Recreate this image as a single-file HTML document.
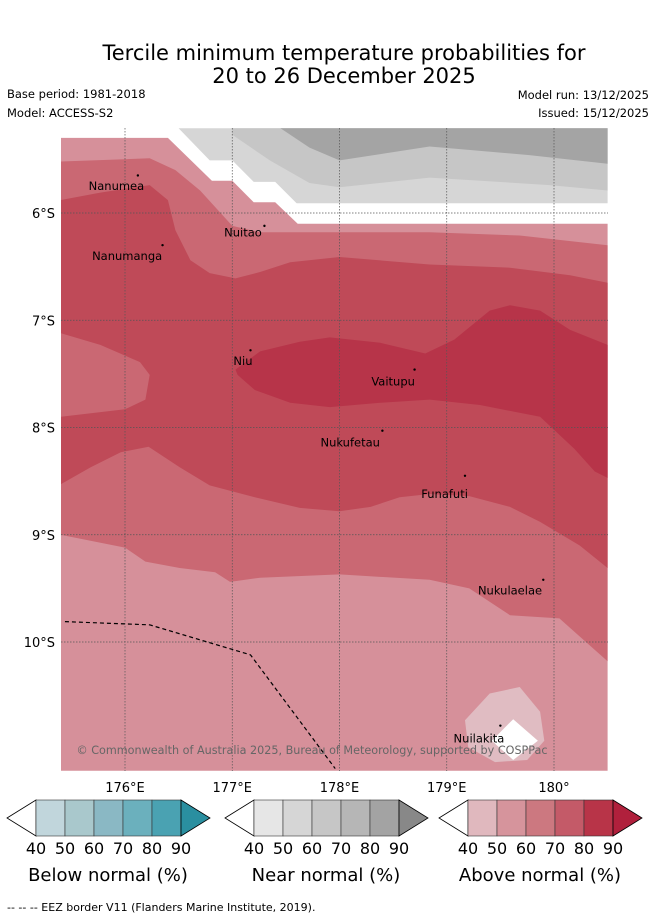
<!DOCTYPE html>
<html><head><meta charset="utf-8"><style>
body{margin:0;background:#fff;font-family:"Liberation Sans","DejaVu Sans",sans-serif;}
#wrap{position:relative;width:655px;height:919px;overflow:hidden}
svg text{font-family:"DejaVu Sans","Liberation Sans",sans-serif}
</style></head><body>
<div id="wrap">
<svg id="svg" width="655" height="919" viewBox="0 0 655 919">
<text x="344" y="60" font-size="21" text-anchor="middle">Tercile minimum temperature probabilities for</text>
<text x="344" y="83" font-size="21" text-anchor="middle">20 to 26 December 2025</text>
<text x="7" y="98" font-size="11.5">Base period: 1981-2018</text>
<text x="7" y="117" font-size="11.5">Model: ACCESS-S2</text>
<text x="649" y="99" font-size="11.5" text-anchor="end">Model run: 13/12/2025</text>
<text x="649" y="117" font-size="11.5" text-anchor="end">Issued: 15/12/2025</text>
<defs><clipPath id="mapclip"><rect x="61" y="128" width="547" height="643"/></clipPath></defs>
<g id="map" clip-path="url(#mapclip)"></g>
<g id="over"></g>
<text x="312" y="754" font-size="11.2" fill="#666" text-anchor="middle">© Commonwealth of Australia 2025, Bureau of Meteorology, supported by COSPPac</text>
<g id="bars"></g>
<text x="7" y="911" font-size="11">--  --  -- EEZ border V11 (Flanders Marine Institute, 2019).</text>
</svg>
</div>
<script>
const NS="http://www.w3.org/2000/svg";
// axes
const lonTicks=[176,177,178,179,180];
const lonLabels=["176°E","177°E","178°E","179°E","180°"];
const latTicks=[6,7,8,9,10];
const latLabels=["6°S","7°S","8°S","9°S","10°S"];
function X(lon){return 125+(lon-176)*107.25;}
function Y(lat){return 213+(lat-6)*107.25;}
// contour regions [lon, lat(S)]
const lightRed=[[175.40,5.30],[176.40,5.30],[176.81,5.70],[177.00,5.70],[177.20,5.90],[177.40,5.90],[177.61,6.10],[180.5,6.10],[180.5,11.2],[175.40,11.2]];
const grayLight=[[176.50,5.21],[180.5,5.21],[180.5,5.91],[177.60,5.91],[177.40,5.71],[177.20,5.71],[177.00,5.51],[176.79,5.51]];
const grayMid=[[177.00,5.21],[180.5,5.21],[180.5,5.79],[179.96,5.74],[178.84,5.67],[178.00,5.76],[177.72,5.72],[177.35,5.51],[177.00,5.27]];
const grayDark=[[177.45,5.21],[180.5,5.21],[180.5,5.54],[179.77,5.46],[178.84,5.38],[178.00,5.51],[177.72,5.39]];
const midRed=[[175.40,5.52],[176.23,5.49],[176.47,5.60],[176.70,5.79],[177.00,6.12],[177.26,6.18],[178.84,6.18],[179.68,6.21],[180.5,6.30],[180.5,10.18],[180.05,9.78],[179.59,9.75],[179.21,9.50],[178.84,9.42],[178.00,9.37],[177.26,9.40],[176.98,9.44],[176.84,9.35],[176.51,9.31],[176.19,9.25],[176.00,9.12],[175.40,9.00]];
const darkRed=[[175.40,5.88],[175.77,5.81],[176.23,5.74],[176.40,5.88],[176.47,6.16],[176.61,6.44],[176.79,6.56],[177.03,6.61],[177.26,6.55],[177.54,6.46],[178.00,6.41],[178.84,6.48],[179.59,6.51],[180.15,6.58],[180.5,6.65],[180.5,9.31],[180.24,9.10],[179.87,8.88],[179.59,8.74],[179.21,8.64],[178.84,8.62],[178.56,8.65],[178.29,8.74],[178.00,8.78],[177.63,8.75],[177.21,8.65],[176.79,8.54],[176.51,8.37],[176.22,8.18],[175.96,8.23],[175.68,8.37],[175.40,8.53]];
const midLobe=[[175.40,7.12],[175.77,7.23],[176.14,7.39],[176.23,7.51],[176.19,7.74],[176.00,7.83],[175.40,7.90]];
const darkest=[[177.03,7.46],[177.26,7.29],[177.63,7.20],[177.91,7.16],[178.38,7.21],[178.80,7.31],[179.07,7.18],[179.40,6.91],[179.59,6.86],[179.87,6.91],[180.15,7.09],[180.5,7.23],[180.5,8.47],[180.38,8.41],[180.19,8.20],[179.87,7.90],[179.31,7.79],[178.84,7.74],[178.38,7.77],[177.91,7.81],[177.54,7.77],[177.21,7.65],[177.05,7.51]];
const palePatch=[[179.17,10.73],[179.40,10.48],[179.68,10.42],[179.87,10.65],[179.91,10.92],[179.75,11.10],[179.45,11.12],[179.20,10.98]];
const whiteDiamond=[[179.62,10.72],[179.85,10.92],[179.62,11.10],[179.42,10.92]];
const eez=[[175.44,9.81],[176.23,9.84],[177.17,10.12],[177.96,11.18]];
const islandNames=["Nanumea","Nanumanga","Nuitao","Niu","Vaitupu","Nukufetau","Funafuti","Nukulaelae","Nuilakita"];
const islandLon=[176.12,176.35,177.30,177.17,178.70,178.40,179.17,179.90,179.50];
const islandLat=[5.65,6.30,6.12,7.28,7.46,8.03,8.45,9.42,10.78];
const labelLon=[175.92,176.02,177.10,177.10,178.50,178.10,178.98,179.59,179.30];
const labelLat=[5.75,6.40,6.18,7.38,7.57,8.14,8.62,9.52,10.90];

const map=document.getElementById('map');
function poly(pts,fill,name){
  const p=document.createElementNS(NS,'polygon');
  p.setAttribute('points',pts.map(d=>X(d[0]).toFixed(1)+','+Y(d[1]).toFixed(1)).join(' '));
  p.setAttribute('fill',fill);
  
  
  map.appendChild(p);
}
poly(lightRed,'#d6909a','contour-above-50');
poly(grayLight,'#d6d6d6','contour-near-50');
poly(grayMid,'#c6c6c6','contour-near-60');
poly(grayDark,'#a4a4a4','contour-near-70');
poly(midRed,'#ca6873','contour-above-60');
poly(darkRed,'#bf4a58','contour-above-70');
poly(midLobe,'#ca6873','contour-above-60-lobe');
poly(darkest,'#b73449','contour-above-80');
poly(palePatch,'#e0bcc2','contour-above-40');
poly(whiteDiamond,'#ffffff','contour-below-40');
// gridlines
lonTicks.forEach((v,i)=>{
  const l=document.createElementNS(NS,'line');
  l.setAttribute('x1',X(v));l.setAttribute('x2',X(v));l.setAttribute('y1',128);l.setAttribute('y2',771);
  l.setAttribute('stroke','#555');l.setAttribute('stroke-width','0.7');l.setAttribute('stroke-dasharray','1.5,1.5');
  
  
  map.appendChild(l);
  const t=document.createElementNS(NS,'text');
  t.setAttribute('x',X(v));t.setAttribute('y',792);t.setAttribute('font-size','13');t.setAttribute('text-anchor','middle');
  t.textContent=lonLabels[i];
  
  
  document.getElementById('over').appendChild(t);
});
latTicks.forEach((v,i)=>{
  const l=document.createElementNS(NS,'line');
  l.setAttribute('x1',61);l.setAttribute('x2',608);l.setAttribute('y1',Y(v));l.setAttribute('y2',Y(v));
  l.setAttribute('stroke','#555');l.setAttribute('stroke-width','0.7');l.setAttribute('stroke-dasharray','1.5,1.5');
  
  
  map.appendChild(l);
  const t=document.createElementNS(NS,'text');
  t.setAttribute('x',55);t.setAttribute('y',Y(v)+5);t.setAttribute('font-size','13');t.setAttribute('text-anchor','end');
  t.textContent=latLabels[i];
  
  
  document.getElementById('over').appendChild(t);
});
// eez
const e=document.createElementNS(NS,'polyline');
e.setAttribute('points',eez.map(d=>X(d[0])+','+Y(d[1])).join(' '));
e.setAttribute('fill','none');e.setAttribute('stroke','#000');e.setAttribute('stroke-width','1.2');e.setAttribute('stroke-dasharray','4,3');


map.appendChild(e);
// islands
islandNames.forEach((n,i)=>{
  const d=document.createElementNS(NS,'circle');
  d.setAttribute('cx',X(islandLon[i]));d.setAttribute('cy',Y(islandLat[i]));d.setAttribute('r',1.2);d.setAttribute('fill','#000');
  
  
  map.appendChild(d);
  const t=document.createElementNS(NS,'text');
  t.setAttribute('x',X(labelLon[i]));t.setAttribute('y',Y(labelLat[i])+4);t.setAttribute('font-size','11.5');t.setAttribute('text-anchor','middle');
  t.textContent=n;
  
  
  map.appendChild(t);
});
// colorbars
const cbTitles=["Below normal (%)","Near normal (%)","Above normal (%)"];
const cbLeft=[36,254,468];
const cbTicks=["40","50","60","70","80","90"];
const cbColors=[["#c1d6dc","#a9c8cc","#8ab8c4","#6bb0bd","#4aa2b2","#2a8fa0"],["#e6e6e6","#d6d6d6","#c6c6c6","#b6b6b6","#a3a3a3","#888888"],["#e0b8be","#d6949c","#cc7880","#c45a68","#b83448","#b0203c"]];
const bars=document.getElementById('bars');
cbTitles.forEach((title,k)=>{
  const g=document.createElementNS(NS,'g');
  
  
  const x0=cbLeft[k],w=29,top=800,bot=836,mid=818;
  let s='<polygon points="'+(x0-29)+','+mid+' '+x0+','+top+' '+x0+','+bot+'" fill="#fff" stroke="#000" stroke-width="0.8"/>';
  for(let j=0;j<5;j++) s+='<rect x="'+(x0+j*w)+'" y="'+top+'" width="'+w+'" height="36" fill="'+cbColors[k][j]+'" stroke="#333" stroke-width="0.6"/>';
  s+='<polygon points="'+(x0+5*w)+','+top+' '+(x0+5*w+29)+','+mid+' '+(x0+5*w)+','+bot+'" fill="'+cbColors[k][5]+'" stroke="#000" stroke-width="0.8"/>';
  cbTicks.forEach((tk,j)=>{s+='<text x="'+(x0+j*w)+'" y="854" font-size="16" text-anchor="middle">'+tk+'</text>';});
  s+='<text x="'+(x0+72)+'" y="881" font-size="18" text-anchor="middle">'+title+'</text>';
  g.innerHTML=s;
  bars.appendChild(g);
});
</script>
</body></html>
